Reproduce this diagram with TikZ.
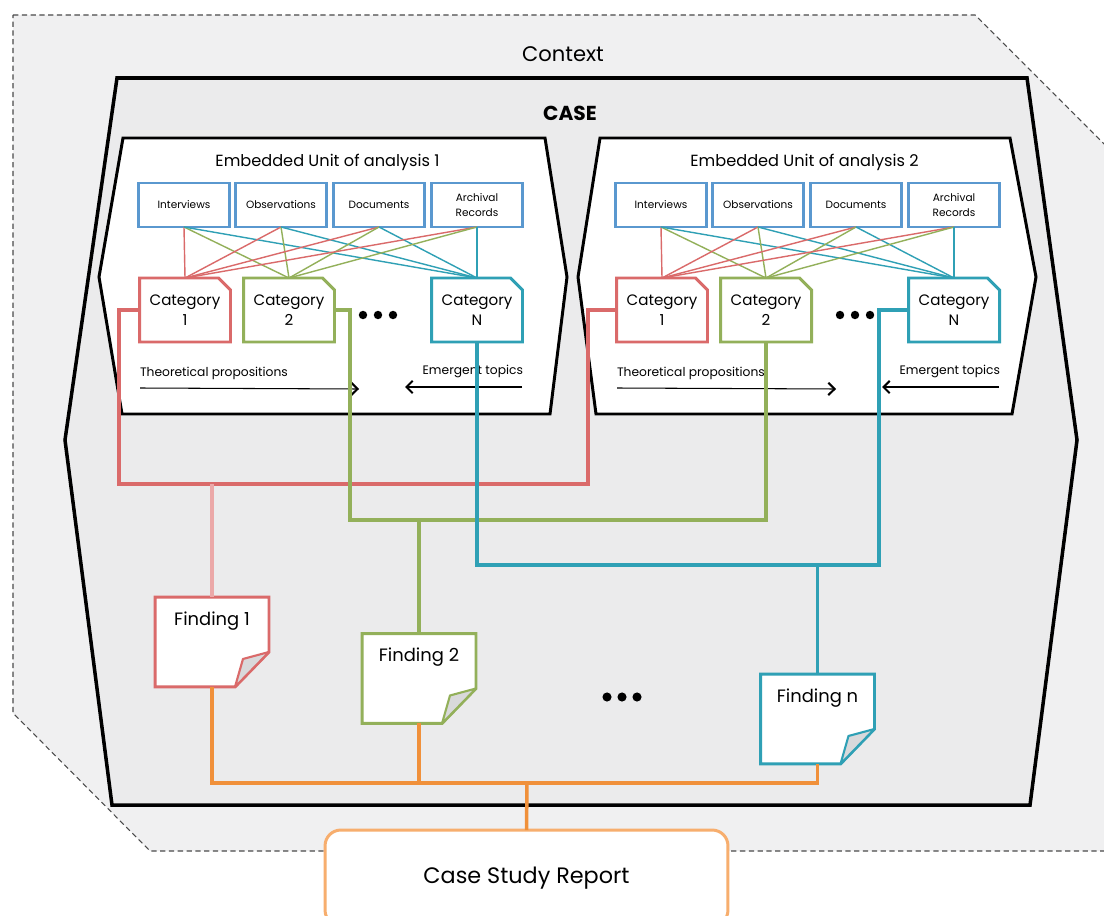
\documentclass[tikz,border=0pt]{standalone}
\usepackage{fontspec}
\setmainfont{Poppins}
\usetikzlibrary{arrows.meta,calc}

\definecolor{ctxfill}{HTML}{F0F0F1}
\definecolor{casefill}{HTML}{EBEBEC}
\definecolor{ctxline}{HTML}{4A4A4A}
\definecolor{srcblue}{HTML}{5A98CF}
\definecolor{catred}{HTML}{DA6A6A}
\definecolor{catgreen}{HTML}{93B05A}
\definecolor{catteal}{HTML}{2FA0B5}
\definecolor{droppink}{HTML}{EBA8A8}
\definecolor{busorange}{HTML}{F0903A}
\definecolor{reportorange}{HTML}{F7AE6E}
\definecolor{flapgray}{HTML}{D9D9DB}

\pgfdeclarelayer{back}
\pgfdeclarelayer{boxes}
\pgfsetlayers{back,boxes,main}

\begin{document}
\begin{tikzpicture}[x=0.02cm,y=-0.02cm,
  every node/.style={inner sep=0pt,outer sep=0pt},
  context/.style={draw=ctxline,line width=0.6pt,dash pattern=on 3pt off 2pt,fill=ctxfill},
  casebox/.style={draw=black,line width=2pt,fill=casefill,line join=miter},
  unitbox/.style={draw=black,line width=1.7pt,fill=white,line join=miter},
  bigtitle/.style={font=\fontsize{12pt}{15pt}\selectfont},
  casetitle/.style={font=\bfseries\fontsize{11.5pt}{14pt}\selectfont},
  unittitle/.style={font=\fontsize{9.2pt}{11pt}\selectfont},
  srcbox/.style={draw=srcblue,line width=1.5pt,fill=white,minimum width=1.82cm,
    minimum height=0.88cm,align=center,font=\fontsize{6pt}{8.6pt}\selectfont},
  catnode/.style={minimum width=1.82cm,minimum height=1.28cm,align=center,
    font=\fontsize{8.6pt}{11.6pt}\selectfont},
  catshape/.style={draw=#1,line width=1.7pt,fill=white,line join=miter},
  link/.style={line width=0.8pt},
  bus/.style={draw=#1,line width=2pt},
  flow/.style={line width=0.6pt},
  flowlabel/.style={font=\fontsize{7pt}{8.5pt}\selectfont},
  notenode/.style={minimum width=2.28cm,text height=16pt,text depth=35.2pt,
    align=center,font=\fontsize{10.2pt}{11pt}\selectfont},
  noteshape/.style={draw=#1,line width=1.7pt,fill=white,line join=miter},
  flap/.style={draw=#1,line width=1.2pt,fill=flapgray,line join=round},
  report/.style={draw=reportorange,line width=1.7pt,fill=white,rounded corners=9pt,
    minimum width=8.06cm,minimum height=1.92cm,font=\fontsize{12.7pt}{15pt}\selectfont},
  dot/.style={fill=black}
]
\useasboundingbox (0,0) rectangle (1104,915);

% ---------- context, case and embedded units ----------
\begin{pgfonlayer}{back}
  \path[context] (13,15) -- (975,15) -- (1150,190) -- (1150,851) -- (150,851)
    -- (13,713) -- cycle;
  \path[casebox] (117,78) -- (1027,78) -- (1077,440) -- (1030,805) -- (112,805)
    -- (65,440) -- cycle;
  \path[unitbox] (123,138) -- (545,138) -- (567,277) -- (550,414) -- (122,414)
    -- (99,277) -- cycle;
  \path[unitbox] (600,138) -- (1010,138) -- (1036,277) -- (1012,414) -- (596,414)
    -- (578,277) -- cycle;
\end{pgfonlayer}

\node[bigtitle] (ctx) at (563,54) {Context};
\node[casetitle] (case) at (570,113) {CASE};

% ---------- the two embedded units of analysis ----------
\foreach \u/\dx in {1/0,2/477}{
  \begin{scope}[xshift={\dx*0.02cm}]
    \node[unittitle] (t\u) at (327.5,162) {Embedded Unit of analysis \u};
    \node[srcbox] (i\u) at (184,205) {Interviews};
    \node[srcbox] (o\u) at (281,205) {Observations};
    \node[srcbox] (d\u) at (379,205) {Documents};
    \node[srcbox] (a\u) at (477,205) {Archival\\Records};
    \node[catnode] (ca\u) at (185,310) {Category\\1};
    \node[catnode] (cb\u) at (289,310) {Category\\2};
    \node[catnode] (cn\u) at (477,310) {Category\\N};
    \fill[dot] (363,315) circle[radius=2.4pt] (378,315) circle[radius=2.4pt]
      (393,315) circle[radius=2.4pt];
    % propositions and topics
    \coordinate (tpa\u) at (140,388);
    \coordinate (tpb\u) at (359,389);
    \coordinate (eta\u) at (522,387);
    \coordinate (etb\u) at (405,387);
    \draw[flow,-{Straight Barb[length=3.5pt,width=7pt,line width=1.2pt]}] (tpa\u) -- (tpb\u);
    \draw[flow,-{Straight Barb[length=3.5pt,width=7pt,line width=1.2pt]}] (eta\u) -- (etb\u);
    \node[flowlabel,anchor=west] (tp\u) at (140,373) {Theoretical propositions};
    \node[flowlabel,anchor=east] (et\u) at (523,371) {Emergent topics};
  \end{scope}
  % category outlines with a snipped corner
  \begin{pgfonlayer}{boxes}
    \foreach \c/\col in {ca/catred,cb/catgreen,cn/catteal}{
      \path[catshape=\col] (\c\u.south west) -- (\c\u.north west)
        -- ($(\c\u.north east)+(-12,0)$) -- ($(\c\u.north east)+(0,12)$)
        -- (\c\u.south east) -- cycle;
    }
  \end{pgfonlayer}
  % every source feeds every category
  \foreach \s in {i,o,d,a}{
    \draw[link,catred] (\s\u.south) -- (ca\u.north);
    \draw[link,catgreen] (\s\u.south) -- (cb\u.north);
    \draw[link,catteal] (\s\u.south) -- (cn\u.north);
  }
}

% ---------- findings ----------
\node[notenode] (f1) at (212,642) {Finding 1};
\node[notenode] (f2) at (419,678.5) {Finding 2};
\node[notenode] (fn) at (817.5,719) {Finding n};
\begin{pgfonlayer}{boxes}
  \foreach \n/\col in {f1/catred,f2/catgreen,fn/catteal}{
    \path[noteshape=\col] (\n.south west) -- (\n.north west) -- (\n.north east)
      -- ($(\n.south east)+(0,-35)$) -- ($(\n.south east)+(-34,0)$) -- cycle;
    \path[flap=\col] ($(\n.south east)+(0,-35)$) -- ($(\n.south east)+(-26,-28)$)
      -- ($(\n.south east)+(-34,0)$) -- cycle;
  }
\end{pgfonlayer}
\fill[dot] (607,697) circle[radius=2.6pt] (622,697) circle[radius=2.6pt]
  (637,697) circle[radius=2.6pt];

% ---------- category buses into the findings ----------
\coordinate (rb-l) at (119,484);
\coordinate (rb-r) at (588,484);
\coordinate (rb-d) at (212,484);
\draw[bus=catred] (ca1.west) -| (rb-l) -- (rb-r) |- (ca2.west);
\draw[bus=droppink] (rb-d) -- (f1.north);

\coordinate (gb-l) at (350,520);
\coordinate (gb-r) at (766,520);
\coordinate (gb-d) at (419,520);
\draw[bus=catgreen] (cb1.east) -| (gb-l) -- (gb-r) -- (cb2.south);
\draw[bus=catgreen] (gb-d) -- (f2.north);

\coordinate (tb-l) at (477,565);
\coordinate (tb-r) at (879,565);
\coordinate (tb-d) at (817.5,565);
\draw[bus=catteal] (cn1.south) -- (tb-l) -- (tb-r) |- (cn2.west);
\draw[bus=catteal] (tb-d) -- (fn.north);

% ---------- findings into the report ----------
\node[report] (rep) at (526.5,878) {Case Study Report};
\coordinate (ob-l) at (212,783);
\coordinate (ob-r) at (817.5,783);
\coordinate (ob-2) at (419,783);
\coordinate (ob-m) at (527,783);
\draw[bus=busorange] (f1.south) -- (ob-l) -- (ob-r) -- (fn.south);
\draw[bus=busorange] (f2.south) -- (ob-2);
\draw[bus=busorange] (ob-m) -- (rep.north);
\end{tikzpicture}
\end{document}
